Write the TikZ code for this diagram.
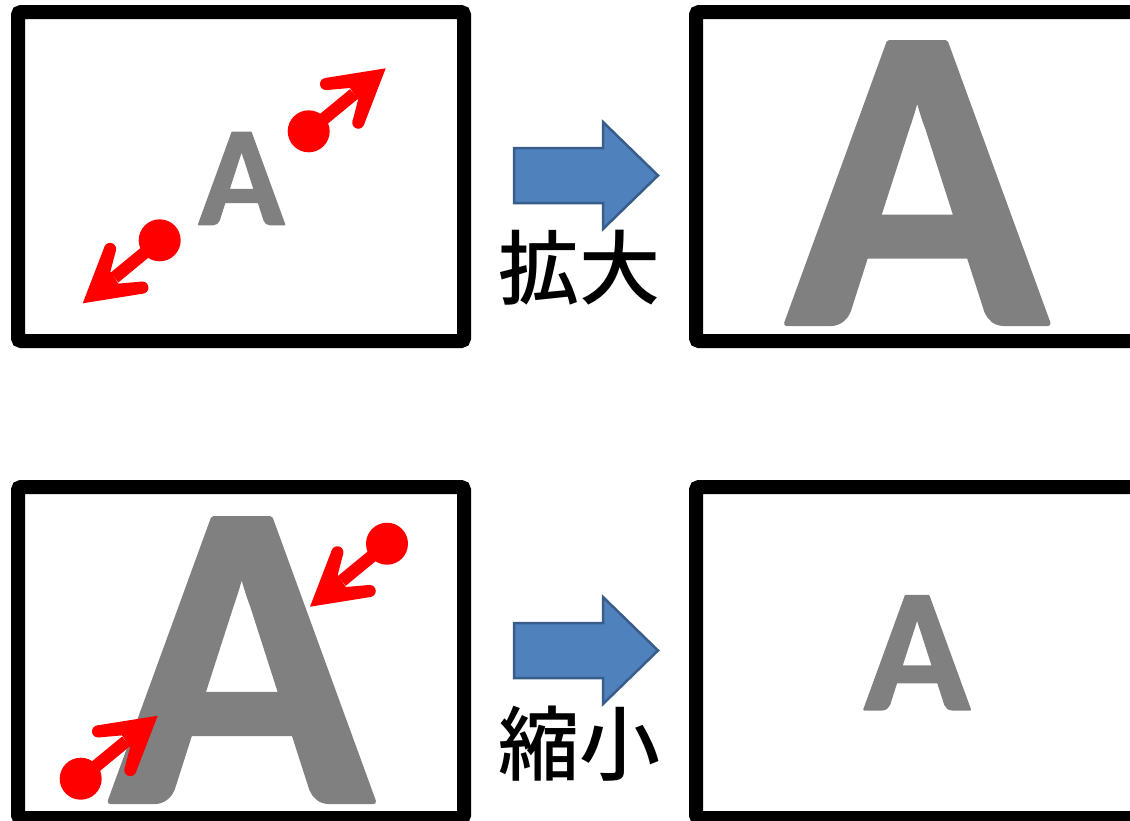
\documentclass[tikz,border=0pt]{standalone}
\usepackage{fontspec}
\newfontfamily\latinA[FakeBold=1.2]{Carlito Bold}
\newfontfamily\cjkfont{Noto Sans CJK JP Medium}
\definecolor{glyphgray}{HTML}{808080}
\definecolor{arrowfill}{HTML}{4F81BD}
\definecolor{arrowedge}{HTML}{385D8A}
\tikzset{
  x=1pt,y=-1pt,
  framebox/.style={draw=black,line width=14pt,rounded corners=3pt,fill=white},
  bluearrow/.style={draw=arrowedge,line width=2.5pt,fill=arrowfill,line join=miter},
  glyph/.style={inner sep=0pt,outer sep=0pt,text=glyphgray,anchor=base},
  kanji/.style={inner sep=0pt,outer sep=0pt,text=black,font=\cjkfont\fontsize{81}{81}\selectfont},
  pics/redarrow/.style={code={
    \fill[red] (-77,63) circle[radius=21];
    \draw[red,line width=12.5pt] (-31.7,25.7) -- (-77,63);
    \fill[red] (0,0) -- (-60.5,9.7) -- (-58.9,21.7) -- (-35.7,19.7) -- (-27.7,31.7) -- (-33.1,52.5) -- (-21.7,56.3) -- cycle;
    \fill[red] (-59.7,15.7) circle[radius=6.05];
    \fill[red] (-27.4,54.4) circle[radius=6.05];
  }}
}
\newcommand{\bigA}[3]{\node[glyph,font=\latinA\fontsize{#3}{#3}\selectfont] (#1) at (#2) {\special{pdf:code 1 j}A};}
\begin{document}
\begin{tikzpicture}
\useasboundingbox (0,0) rectangle (1130,820);
\clip (0,0) rectangle (1130,820);
\fill[white] (0,0) rectangle (1130,820);
% frames
\draw[framebox] (18,12) rectangle (464,341);
\draw[framebox] (696,12) rectangle (1200,341);
\draw[framebox] (18,487) rectangle (464,818);
\draw[framebox] (696,487) rectangle (1200,818);
% letters
\bigA{smallA}{241.5,224.5}{142}
\bigA{largeA}{917,323.5}{433}
\bigA{startA}{241.5,801.5}{436}
\bigA{endA}{917,709.5}{175}
% red arrows
\pic at (385.7,68.3) {redarrow};
\pic[rotate=180] at (82.7,303.3) {redarrow};
\pic[rotate=180] at (310,606.7) {redarrow};
\pic at (157.7,715.7) {redarrow};
% block arrows
\draw[bluearrow] (514,148) -- (603,148) -- (603,122) -- (658,175.5) -- (603,229) -- (603,203) -- (514,203) -- cycle;
\draw[bluearrow] (514,623) -- (603,623) -- (603,597) -- (658,650.5) -- (603,704) -- (603,678) -- (514,678) -- cycle;
% labels
\node[kanji] (enlarge) at (579,268) {拡大};
\node[kanji] (shrink) at (579,744) {縮小};
\end{tikzpicture}
\end{document}
